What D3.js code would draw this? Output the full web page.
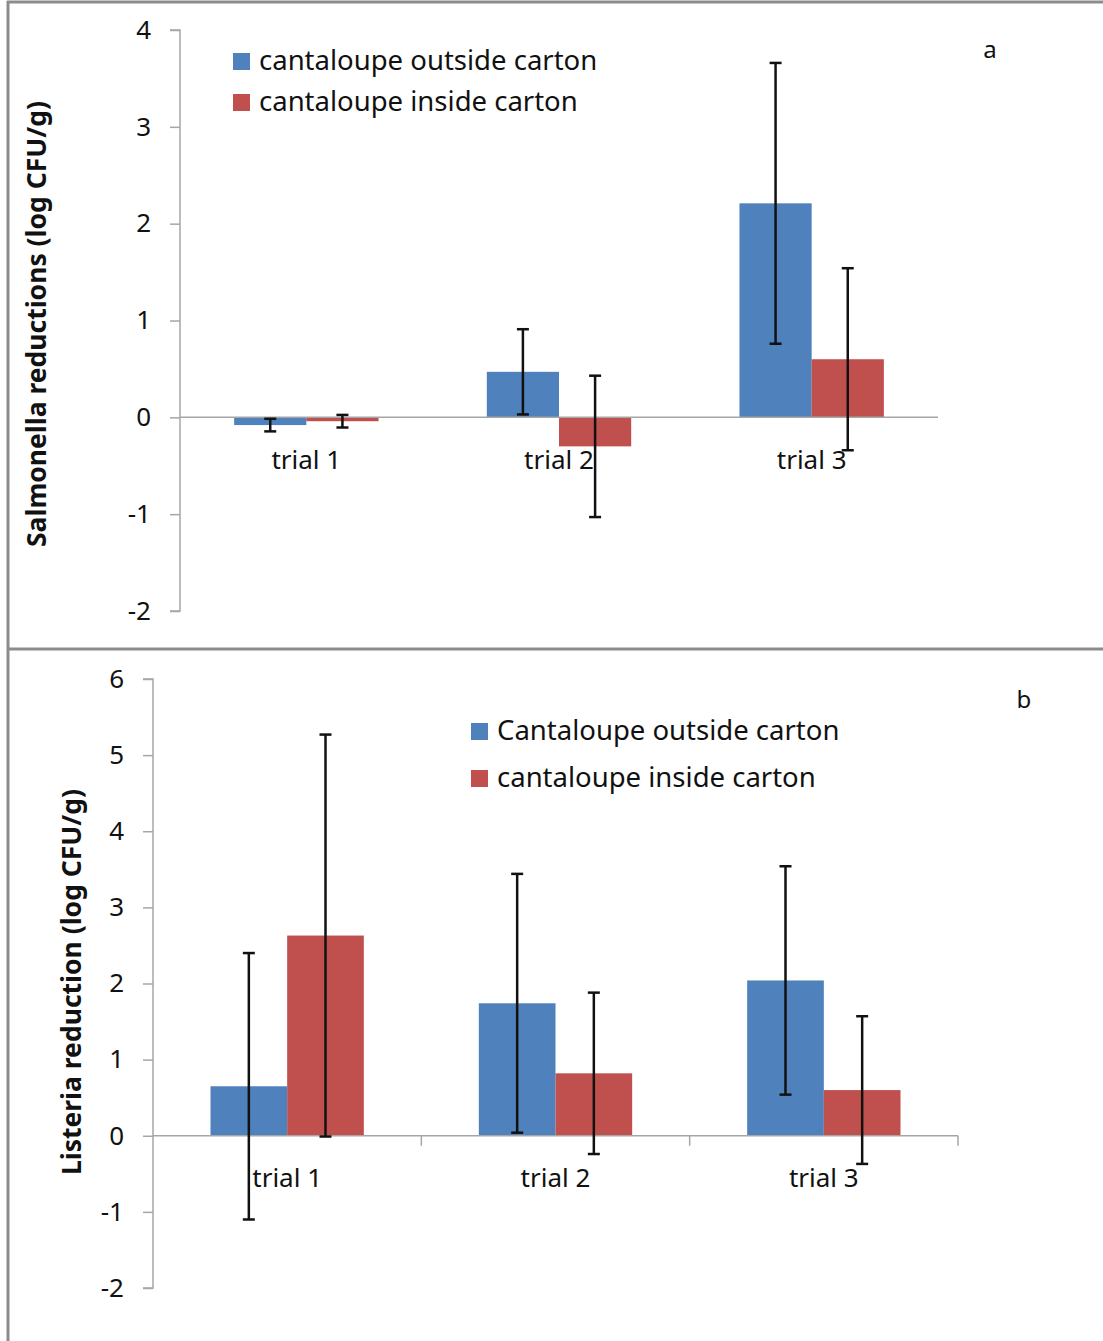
<!DOCTYPE html>
<html>
<head>
<meta charset="utf-8">
<script src="https://cdn.jsdelivr.net/npm/d3@7"></script>
<style>
	body { margin: 0; background: #fff; }
	text { font-family: "Noto Sans", "Open Sans", sans-serif; fill: #111; }
</style>
</head>
<body>
<svg id="chart" width="1103" height="1341"></svg>
<script>
var categories = ["trial 1", "trial 2", "trial 3"];
var seriesNamesA = ["cantaloupe outside carton", "cantaloupe inside carton"];
var seriesNamesB = ["Cantaloupe outside carton", "cantaloupe inside carton"];

// panel a: Salmonella
var salmonellaOutside = [-0.08, 0.47, 2.21];
var salmonellaOutsideErr = [0.065, 0.44, 1.45];
var salmonellaInside = [-0.04, -0.30, 0.60];
var salmonellaInsideErr = [0.065, 0.73, 0.94];
var ticksA = [-2, -1, 0, 1, 2, 3, 4];

// panel b: Listeria
var listeriaOutside = [0.65, 1.74, 2.04];
var listeriaOutsideErr = [1.75, 1.70, 1.50];
var listeriaInside = [2.63, 0.82, 0.60];
var listeriaInsideErr = [2.64, 1.06, 0.97];
var ticksB = [-2, -1, 0, 1, 2, 3, 4, 5, 6];

var colors = ["#4f81bd", "#c0504d"];
var axisColor = "#a6a6a6";

var svg = d3.select("#chart");

// frame around the two panels
svg.append("line").attr("x1", 8).attr("x2", 8).attr("y1", 1).attr("y2", 1341)
	.attr("stroke", "#8c8c8c").attr("stroke-width", 3);
svg.append("line").attr("x1", 7).attr("x2", 1103).attr("y1", 2).attr("y2", 2)
	.attr("stroke", "#8c8c8c").attr("stroke-width", 3);
svg.append("line").attr("x1", 7).attr("x2", 1103).attr("y1", 649).attr("y2", 649)
	.attr("stroke", "#8c8c8c").attr("stroke-width", 3);

function drawPanel(p) {
	var g = svg.append("g");

	// excel style: gap width 150% of a bar, each band = 2 bars + 1.5 gap
	var x = d3.scaleBand().domain(categories).range(p.xRange).padding(0);
	var band = x.step();
	var barW = band / 3.5;
	var y = d3.scaleLinear().domain(p.yDomain).range(p.yRange);

	// y axis
	var yAxis = d3.axisLeft(y).tickValues(p.ticks).tickSize(10).tickPadding(19)
		.tickFormat(function(d) { return String(d); });
	var ga = g.append("g").attr("transform", "translate(" + p.xRange[0] + ",0)").call(yAxis);
	ga.select(".domain").attr("stroke", axisColor).attr("stroke-width", 1.5)
		.attr("d", "M-10," + y(p.yDomain[1]) + "H0V" + y(p.yDomain[0]) + "H-10");
	ga.selectAll(".tick line").attr("stroke", axisColor).attr("stroke-width", 1.5);
	ga.selectAll(".tick text").attr("font-size", 26).style("font-family", "'Noto Sans', sans-serif").attr("fill", "#111");

	// bars
	var groups = [p.outside, p.inside];
	var errs = [p.outsideErr, p.insideErr];
	groups.forEach(function(vals, s) {
		g.selectAll(null).data(vals).enter().append("rect")
			.attr("x", function(d, i) { return x(categories[i]) + barW * 0.75 + barW * s; })
			.attr("width", barW)
			.attr("y", function(d) { return y(Math.max(0, d)); })
			.attr("height", function(d) { return Math.abs(y(d) - y(0)); })
			.attr("fill", colors[s]);
	});

	// zero line + category ticks
	g.append("line").attr("x1", p.xRange[0]).attr("x2", p.xRange[1])
		.attr("y1", y(0)).attr("y2", y(0)).attr("stroke", axisColor).attr("stroke-width", 1.5);
	if (p.catTicks) {
		categories.forEach(function(c) {
			var tx = x(c) + band;
			g.append("line").attr("x1", tx).attr("x2", tx).attr("y1", y(0)).attr("y2", y(0) + 10)
				.attr("stroke", axisColor).attr("stroke-width", 1.5);
		});
	}

	// category labels
	g.selectAll(null).data(categories).enter().append("text")
		.attr("x", function(d) { return x(d) + band / 2; })
		.attr("y", y(0) + p.catOffset)
		.attr("text-anchor", "middle").attr("font-size", 26)
		.text(function(d) { return d; });

	// error bars
	groups.forEach(function(vals, s) {
		vals.forEach(function(v, i) {
			var cx = x(categories[i]) + barW * 0.75 + barW * s + barW / 2;
			var e = errs[s][i];
			var eg = g.append("g").attr("stroke", "#111").attr("stroke-width", 2.5);
			eg.append("line").attr("x1", cx).attr("x2", cx).attr("y1", y(v + e)).attr("y2", y(v - e));
			eg.append("line").attr("x1", cx - 6).attr("x2", cx + 6).attr("y1", y(v + e)).attr("y2", y(v + e));
			eg.append("line").attr("x1", cx - 6).attr("x2", cx + 6).attr("y1", y(v - e)).attr("y2", y(v - e));
		});
	});

	// legend
	p.names.forEach(function(n, s) {
		var ly = p.legendY + s * p.legendGap;
		g.append("rect").attr("x", p.legendX).attr("y", ly - 17).attr("width", 17).attr("height", 17)
			.attr("fill", colors[s]);
		g.append("text").attr("x", p.legendX + 26).attr("y", ly).attr("font-size", 27.5).text(n);
	});

	// panel letter
	g.append("text").attr("x", p.letterX).attr("y", p.letterY).attr("font-size", 24)
		.attr("text-anchor", "middle").text(p.letter);

	// y axis title
	g.append("text")
		.attr("transform", "translate(" + p.titleX + "," + p.titleY + ") rotate(-90)")
		.attr("text-anchor", "middle").attr("font-size", 26.5).attr("font-weight", "bold")
		.text(p.title);
}

drawPanel({
	xRange: [180, 938], yDomain: [-2, 4], yRange: [611, 30], ticks: ticksA,
	outside: salmonellaOutside, outsideErr: salmonellaOutsideErr,
	inside: salmonellaInside, insideErr: salmonellaInsideErr,
	names: seriesNamesA, legendX: 233, legendY: 70, legendGap: 41,
	catTicks: false, catOffset: 52,
	letter: "a", letterX: 990, letterY: 58,
	title: "Salmonella reductions (log CFU/g)", titleX: 46, titleY: 324
});

drawPanel({
	xRange: [153, 958], yDomain: [-2, 6], yRange: [1288, 679], ticks: ticksB,
	outside: listeriaOutside, outsideErr: listeriaOutsideErr,
	inside: listeriaInside, insideErr: listeriaInsideErr,
	names: seriesNamesB, legendX: 471, legendY: 740, legendGap: 47,
	catTicks: true, catOffset: 51,
	letter: "b", letterX: 1024, letterY: 708,
	title: "Listeria reduction (log CFU/g)", titleX: 81, titleY: 982
});
</script>
</body>
</html>
